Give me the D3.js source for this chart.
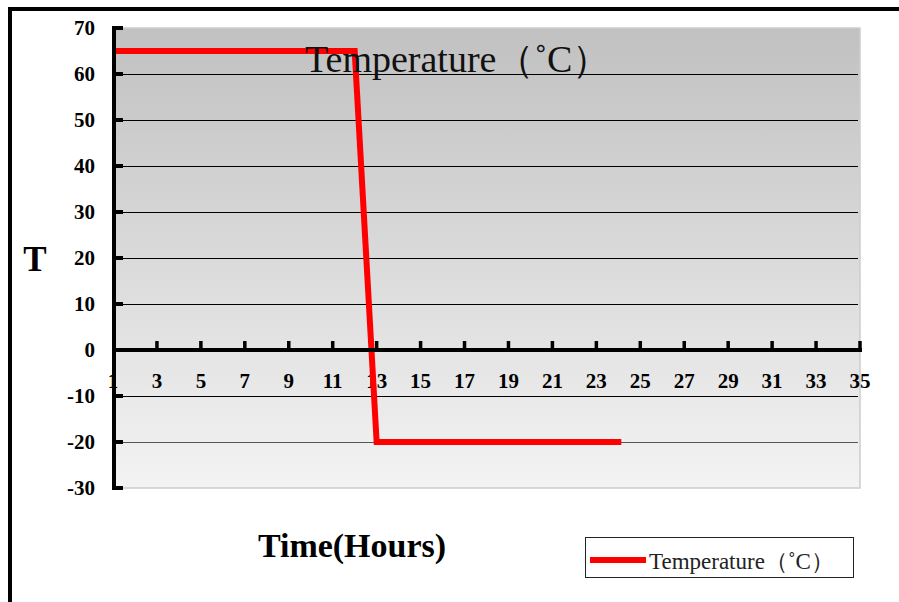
<!DOCTYPE html>
<html>
<head>
<meta charset="utf-8">
<script src="https://cdn.jsdelivr.net/npm/d3@7"></script>
<style>
  body { margin: 0; background: #fff; }
  svg { display: block; }
</style>
</head>
<body>
<div id="chart"></div>
<script>
// hours on the category axis and the temperature readings
var hours = [1, 2, 3, 4, 5, 6, 7, 8, 9, 10, 11, 12, 13, 14, 15, 16, 17, 18, 19, 20, 21, 22, 23, 24];
var temps = [65, 65, 65, 65, 65, 65, 65, 65, 65, 65, 65, 65, -20, -20, -20, -20, -20, -20, -20, -20, -20, -20, -20, -20];
var xTicks = [1, 3, 5, 7, 9, 11, 13, 15, 17, 19, 21, 23, 25, 27, 29, 31, 33, 35];
var yTicks = [70, 60, 50, 40, 30, 20, 10, 0, -10, -20, -30];
var seriesName = "Temperature（˚C）";

var width = 899, height = 602;
var serif = "'Liberation Serif', 'Times New Roman', serif";

var svg = d3.select("#chart").append("svg")
    .attr("width", width)
    .attr("height", height);

// outer frame (runs off the right and bottom edges)
svg.append("rect")
    .attr("x", 10).attr("y", 9)
    .attr("width", 900).attr("height", 610)
    .attr("fill", "none")
    .attr("stroke", "#000")
    .attr("stroke-width", 4);

var x = d3.scaleLinear().domain([1, 35]).range([113, 860]);
var y = d3.scaleLinear().domain([-30, 70]).range([488, 28]);

var defs = svg.append("defs");

// plot area gradient
var grad = defs.append("linearGradient")
    .attr("id", "bg").attr("x1", 0).attr("y1", 0).attr("x2", 0).attr("y2", 1);
grad.append("stop").attr("offset", "0%").attr("stop-color", "#c1c1c1");
grad.append("stop").attr("offset", "100%").attr("stop-color", "#f3f3f3");

defs.append("clipPath").attr("id", "plotclip")
  .append("rect")
    .attr("x", x(1)).attr("y", 0)
    .attr("width", x(35) - x(1)).attr("height", height);

svg.append("rect")
    .attr("x", x(1)).attr("y", y(70))
    .attr("width", x(35) - x(1)).attr("height", y(-30) - y(70))
    .attr("fill", "url(#bg)")
    .attr("stroke", "#cdcdcd")
    .attr("stroke-width", 1.5);

// gridlines
svg.selectAll(".grid")
    .data(yTicks.filter(function(d) { return d !== 70 && d !== 0 && d !== -30; }))
  .enter().append("line")
    .attr("class", "grid")
    .attr("x1", x(1)).attr("x2", x(35) - 2)
    .attr("y1", function(d) { return Math.round(y(d)) + 0.5; })
    .attr("y2", function(d) { return Math.round(y(d)) + 0.5; })
    .attr("stroke", function(d) { return d === -20 ? "#555" : "#000"; })
    .attr("stroke-width", 1);

// x tick labels (the "1" sits behind the y axis)
svg.selectAll(".xlab")
    .data(xTicks)
  .enter().append("text")
    .attr("class", "xlab")
    .attr("x", function(d) { return x(d); })
    .attr("y", 388)
    .attr("text-anchor", "middle")
    .attr("font-family", serif)
    .attr("font-weight", "bold")
    .attr("font-size", 21)
    .text(function(d) { return d; });

// temperature line
var line = d3.line()
    .x(function(d, i) { return x(hours[i]); })
    .y(function(d) { return y(d); });

svg.append("path")
    .datum(temps)
    .attr("d", line)
    .attr("clip-path", "url(#plotclip)")
    .attr("fill", "none")
    .attr("stroke", "#ff0000")
    .attr("stroke-width", 6)
    .attr("stroke-linecap", "square")
    .attr("stroke-linejoin", "miter");

// x axis at zero
svg.append("line")
    .attr("x1", x(1)).attr("x2", x(35) + 2)
    .attr("y1", y(0)).attr("y2", y(0))
    .attr("stroke", "#000").attr("stroke-width", 4);

svg.selectAll(".xtick")
    .data(xTicks.slice(1))
  .enter().append("line")
    .attr("class", "xtick")
    .attr("x1", function(d) { return x(d); })
    .attr("x2", function(d) { return x(d); })
    .attr("y1", y(0) - 9).attr("y2", y(0))
    .attr("stroke", "#000").attr("stroke-width", 3.5);

// y axis
svg.append("line")
    .attr("x1", x(1) + 1).attr("x2", x(1) + 1)
    .attr("y1", y(70) - 2).attr("y2", y(-30) + 2)
    .attr("stroke", "#000").attr("stroke-width", 4);

svg.selectAll(".ytick")
    .data(yTicks)
  .enter().append("line")
    .attr("class", "ytick")
    .attr("x1", x(1)).attr("x2", x(1) + 10)
    .attr("y1", function(d) { return y(d); })
    .attr("y2", function(d) { return y(d); })
    .attr("stroke", "#000").attr("stroke-width", 4);

svg.selectAll(".ylab")
    .data(yTicks)
  .enter().append("text")
    .attr("class", "ylab")
    .attr("x", 95)
    .attr("y", function(d) { return y(d) + 7; })
    .attr("text-anchor", "end")
    .attr("font-family", serif)
    .attr("font-weight", "bold")
    .attr("font-size", 21)
    .text(function(d) { return d; });

// title drawn over the line
svg.append("text")
    .attr("x", 305).attr("y", 72)
    .attr("font-family", serif)
    .attr("font-size", 38)
    .attr("fill", "#111")
    .text(seriesName);

// axis titles
svg.append("text")
    .attr("x", 35).attr("y", 271)
    .attr("text-anchor", "middle")
    .attr("font-family", serif)
    .attr("font-weight", "bold")
    .attr("font-size", 35)
    .text("T");

svg.append("text")
    .attr("x", 352).attr("y", 557)
    .attr("text-anchor", "middle")
    .attr("font-family", serif)
    .attr("font-weight", "bold")
    .attr("font-size", 34)
    .text("Time(Hours)");

// legend
var legend = svg.append("g").attr("transform", "translate(585,537)");
legend.append("rect")
    .attr("x", 0.5).attr("y", 0.5)
    .attr("width", 268).attr("height", 40)
    .attr("fill", "#fff")
    .attr("stroke", "#222").attr("stroke-width", 1);
legend.append("line")
    .attr("x1", 5).attr("x2", 61)
    .attr("y1", 23).attr("y2", 23)
    .attr("stroke", "#ff0000").attr("stroke-width", 6);
legend.append("text")
    .attr("x", 64).attr("y", 32)
    .attr("font-family", serif)
    .attr("font-size", 23)
    .attr("fill", "#222")
    .text(seriesName);
</script>
</body>
</html>
